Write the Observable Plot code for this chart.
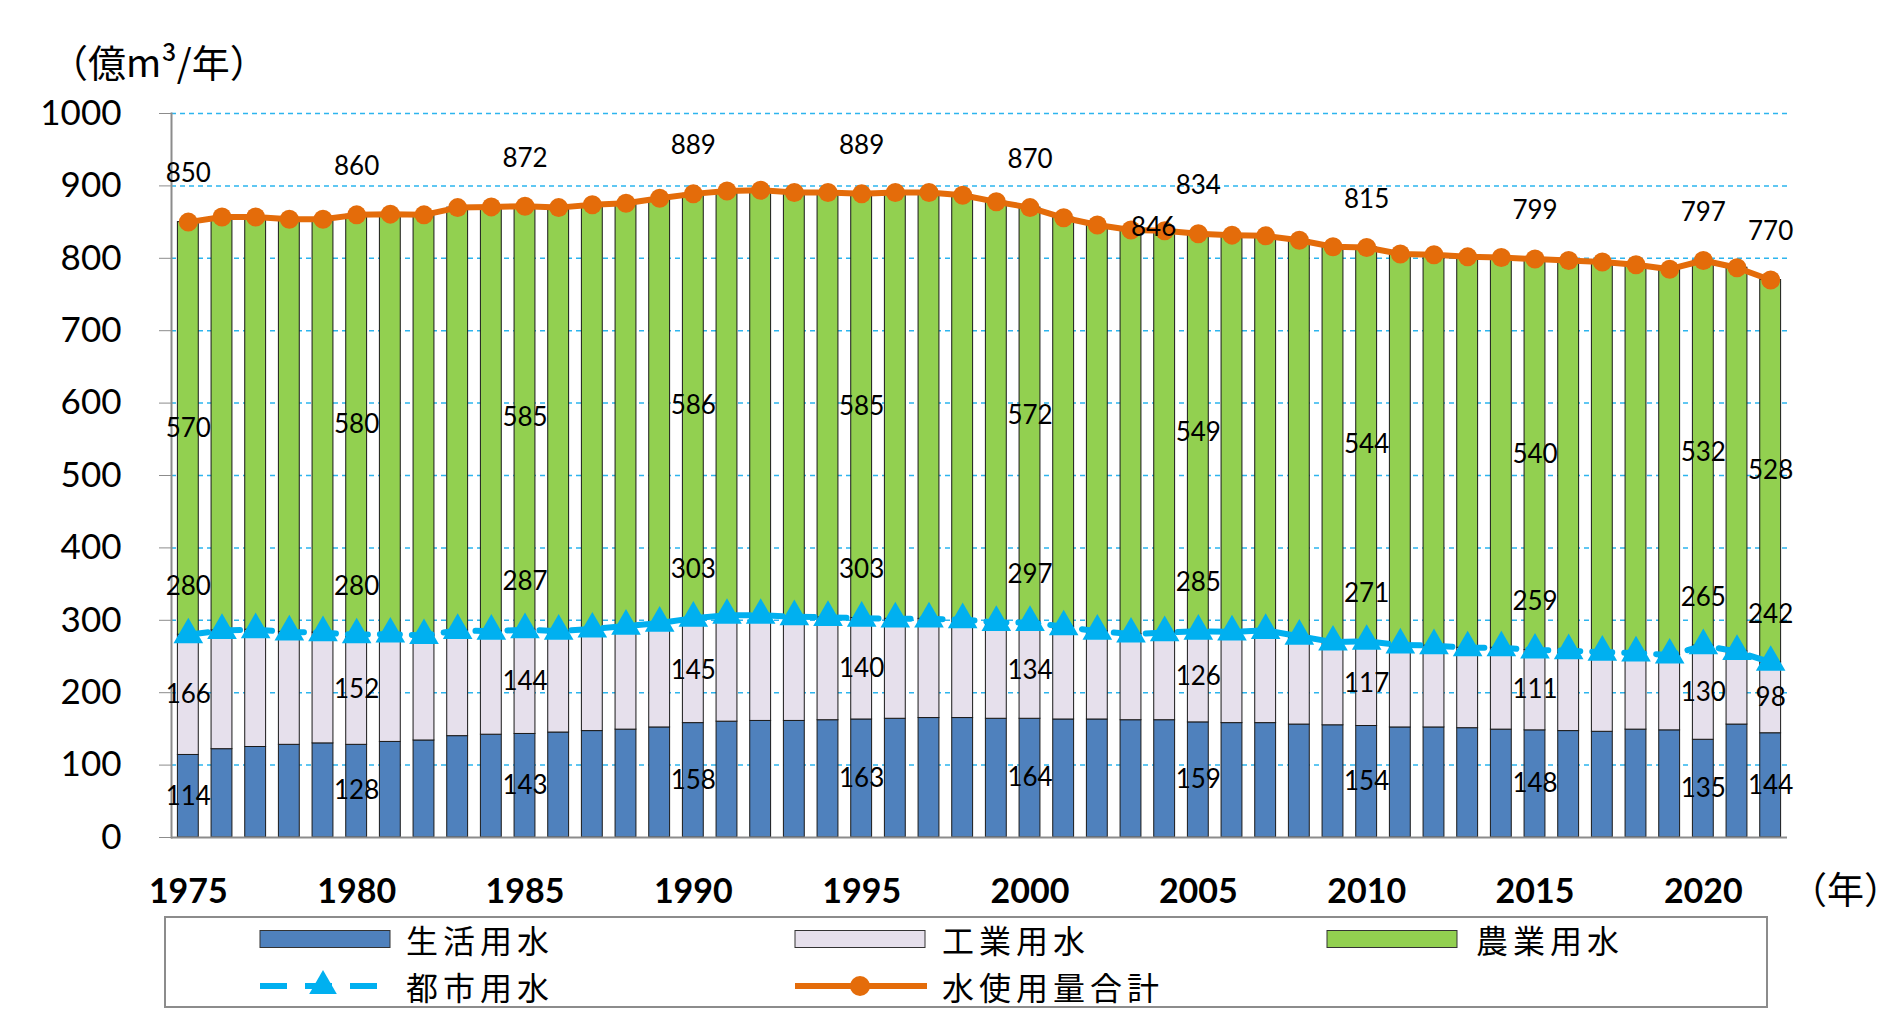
<!DOCTYPE html>
<html><head><meta charset="utf-8">
<script src="https://cdn.jsdelivr.net/npm/d3@7"></script>
<script src="https://cdn.jsdelivr.net/npm/@observablehq/plot@0.6"></script>
<style>
body{margin:0;background:#fff;}
#wrap{position:relative;width:1904px;height:1020px;overflow:hidden;background:#fff;font-family:Lato,"Noto Sans CJK JP",sans-serif;}
#chart{position:absolute;left:0;top:0;}
#ytitle{position:absolute;left:50px;top:38px;font-family:"Noto Sans CJK JP",sans-serif;font-size:38px;line-height:46px;white-space:nowrap;}
#xunit{position:absolute;left:1790px;top:865px;font-family:"Noto Sans CJK JP",sans-serif;font-size:37px;line-height:46px;white-space:nowrap;}
#legend{position:absolute;left:164px;top:916px;}
</style></head>
<body><div id="wrap"><div id="chart"></div><div id="ytitle">（億m³/年）</div><div id="xunit">（年）</div><div id="legend"></div></div>
<script>
const years = [1975,1976,1977,1978,1979,1980,1981,1982,1983,1984,1985,1986,1987,1988,1989,1990,1991,1992,1993,1994,1995,1996,1997,1998,1999,2000,2001,2002,2003,2004,2005,2006,2007,2008,2009,2010,2011,2012,2013,2014,2015,2016,2017,2018,2019,2020,2021,2022];
const domestic =     [114,122,125,128,130,128,132,134,140,142,143,145,147,149,152,158,160,161,161,162,163,164,165,165,164,164,163,163,162,162,159,158,158,156,155,154,152,152,151,149,148,147,146,149,148,135,156,144];
const industrial =   [166,164,162,156,153,152,149,145,146,143,144,140,141,143,144,145,147,146,144,142,140,138,137,136,133,134,128,122,119,121,126,126,128,122,115,117,114,113,111,113,111,111,110,106,104,130,101,98];
const agricultural = [570,571,570,570,571,580,580,581,584,586,585,585,586,584,587,586,586,587,586,587,585,589,589,586,581,572,565,561,558,555,549,548,545,547,546,544,540,540,540,539,540,539,539,536,533,532,530,528];
const urban =        [280,286,287,284,283,280,281,279,286,285,287,285,288,292,296,303,307,307,305,304,303,302,302,301,297,297,291,285,281,283,285,284,286,278,270,271,266,265,262,262,259,258,256,255,252,265,257,242];
const total =        [850,857,857,854,854,860,861,860,870,871,872,870,874,876,883,889,893,894,891,891,889,891,891,887,878,870,856,846,839,838,834,832,831,825,816,815,806,805,802,801,799,797,795,791,785,797,787,770];
const labelYears = [1975,1980,1985,1990,1995,2000,2005,2010,2015,2020,2022];
const xTickYears = [1975,1980,1985,1990,1995,2000,2005,2010,2015,2020];
const yTicks = [0,100,200,300,400,500,600,700,800,900,1000];
const extraLabels = [{year:2004, value:846}];
const seriesNames = ["生活用水","工業用水","農業用水","都市用水","水使用量合計"];
const seriesColors = ["#4F81BD","#E6E0EC","#92D050","#00B0F0","#E46C0A"];

const rows = years.map((yr,i)=>({year:yr, domestic:domestic[i], industrial:industrial[i], agricultural:agricultural[i], urban:urban[i], total:total[i]}));
const long = [];
years.forEach((yr,i)=>{
  long.push({year:yr, series:seriesNames[0], value:domestic[i]});
  long.push({year:yr, series:seriesNames[1], value:industrial[i]});
  long.push({year:yr, series:seriesNames[2], value:agricultural[i]});
});
const labelRows = rows.filter(d=>labelYears.includes(d.year));
const lab = {fontSize:26, fill:"black"};

const plot = Plot.plot({
  width:1904, height:910, marginLeft:171, marginRight:117, marginTop:113, marginBottom:73,
  style:{fontFamily:"Lato, 'Noto Sans CJK JP', sans-serif", background:"white", color:"black", overflow:"visible"},
  x:{type:"band", domain:years, paddingInner:0.38, paddingOuter:0.19, align:0.5},
  y:{domain:[0,1000]},
  color:{type:"ordinal", domain:seriesNames.slice(0,3), range:seriesColors.slice(0,3)},
  marks:[
    Plot.ruleY(yTicks.filter(v=>v>0), {stroke:"#2DB5EE", strokeWidth:1.5, strokeDasharray:"5,4"}),
    Plot.barY(long, {x:"year", y:"value", fill:"series", stroke:"#1a1a1a", strokeWidth:1, order:null}),
    Plot.ruleY([0], {stroke:"#8c8c8c", strokeWidth:2}),
    Plot.frame({anchor:"left", stroke:"#8c8c8c", strokeWidth:2}),
    Plot.axisY({ticks:yTicks, tickSize:12, tickPadding:38, fontSize:35, stroke:"#8c8c8c", fill:"black", label:null, tickFormat:d=>String(d)}),
    Plot.axisX({ticks:xTickYears, tickSize:0, tickPadding:41, fontSize:34, fontWeight:"bold", fill:"black", label:null, tickFormat:d=>String(d)}),
    Plot.line(rows, {x:"year", y:"urban", stroke:seriesColors[3], strokeWidth:6, strokeDasharray:"20,12"}),
    Plot.dot(rows, {x:"year", y:"urban", symbol:"triangle", r:11, fill:seriesColors[3]}),
    Plot.line(rows, {x:"year", y:"total", stroke:seriesColors[4], strokeWidth:6}),
    Plot.dot(rows, {x:"year", y:"total", r:9.5, fill:seriesColors[4]}),
    Plot.text(labelRows, {x:"year", y:"total", text:d=>String(d.total), dy:-48, ...lab}),
    Plot.text(labelRows, {x:"year", y:d=>d.urban + d.agricultural/2, text:d=>String(d.agricultural), ...lab}),
    Plot.text(labelRows, {x:"year", y:"urban", text:d=>String(d.urban), dy:-48, ...lab}),
    Plot.text(labelRows, {x:"year", y:d=>d.domestic + d.industrial/2, text:d=>String(d.industrial), ...lab}),
    Plot.text(labelRows, {x:"year", y:d=>d.domestic/2, text:d=>String(d.domestic), ...lab}),
    Plot.text(extraLabels, {x:"year", y:"value", text:d=>String(d.value), dx:-11, dy:3, ...lab})
  ]
});
document.getElementById("chart").appendChild(plot);

// legend
const lg = d3.select("#legend").append("svg").attr("width",1606).attr("height",94)
  .attr("font-family","'Noto Sans CJK JP', sans-serif").attr("font-size",32);
lg.append("rect").attr("x",1).attr("y",1).attr("width",1602).attr("height",90)
  .attr("fill","white").attr("stroke","#8c8c8c").attr("stroke-width",2);
const r1 = 23, r2 = 70;
const row1 = [{x:96, tx:242},{x:631, tx:778},{x:1163, tx:1312}];
row1.forEach((p,i)=>{
  lg.append("rect").attr("x",p.x).attr("y",r1-8.5).attr("width",130).attr("height",17)
    .attr("fill",seriesColors[i]).attr("stroke","#333").attr("stroke-width",1);
  lg.append("text").attr("x",p.tx).attr("y",r1).attr("dominant-baseline","central").attr("letter-spacing",5).text(seriesNames[i]);
});
// urban legend
lg.append("line").attr("x1",96).attr("x2",226).attr("y1",r2).attr("y2",r2)
  .attr("stroke",seriesColors[3]).attr("stroke-width",6).attr("stroke-dasharray","27,18");
lg.append("path").attr("d", d3.symbol(d3.symbolTriangle, 330)()).attr("transform",`translate(159,${r2})`).attr("fill",seriesColors[3]);
lg.append("text").attr("x",242).attr("y",r2).attr("dominant-baseline","central").attr("letter-spacing",5).text(seriesNames[3]);
// total legend
lg.append("line").attr("x1",631).attr("x2",763).attr("y1",r2).attr("y2",r2)
  .attr("stroke",seriesColors[4]).attr("stroke-width",6);
lg.append("circle").attr("cx",696).attr("cy",r2).attr("r",10).attr("fill",seriesColors[4]);
lg.append("text").attr("x",778).attr("y",r2).attr("dominant-baseline","central").attr("letter-spacing",5).text(seriesNames[4]);
</script></body></html>
